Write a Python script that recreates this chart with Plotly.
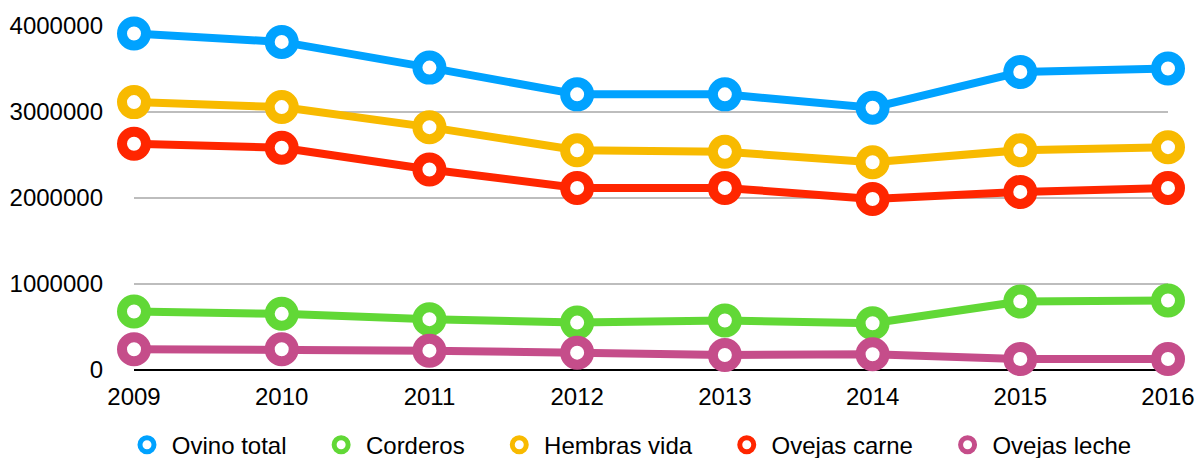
import plotly.graph_objects as go

years = [2009, 2010, 2011, 2012, 2013, 2014, 2015, 2016]
ovino_total = [3913000, 3815000, 3516000, 3205000, 3205000, 3050000, 3465000, 3505000]
corderos = [680000, 653000, 591000, 551000, 575000, 544000, 796000, 808000]
hembras_vida = [3115000, 3057000, 2824000, 2556000, 2537000, 2416000, 2556000, 2591000]
ovejas_carne = [2630000, 2584000, 2331000, 2117000, 2117000, 1989000, 2071000, 2117000]
ovejas_leche = [241000, 241000, 225000, 202000, 175000, 183000, 128000, 128000]

names = ["Ovino total", "Corderos", "Hembras vida", "Ovejas carne", "Ovejas leche"]
series = [ovino_total, corderos, hembras_vida, ovejas_carne, ovejas_leche]
colors = ["#00a2ff", "#61d836", "#f8ba00", "#ff2600", "#c54d8a"]
y_ticks = [0, 1000000, 2000000, 3000000, 4000000]

FONT = "Liberation Sans"

fig = go.Figure()
for name, vals, col in zip(names, series, colors):
    fig.add_trace(go.Scatter(
        x=years, y=vals, mode="lines+markers", name=name, showlegend=False,
        line=dict(color=col, width=8),
        marker=dict(size=24, color="white", line=dict(color=col, width=10)),
        cliponaxis=False,
    ))
for name, col in zip(names, colors):
    fig.add_trace(go.Scatter(
        x=[None], y=[None], mode="markers",
        name="\u2009" + name + "\u00a0\u00a0\u00a0\u2009\u2009", showlegend=True,
        marker=dict(size=14, color="white", line=dict(color=col, width=6)),
    ))

fig.update_layout(
    width=1198, height=458,
    margin=dict(l=134, r=30, t=26, b=88, autoexpand=False),
    paper_bgcolor="white", plot_bgcolor="white",
    font=dict(family=FONT, size=24, color="black"),
    showlegend=True,
    legend=dict(orientation="h", x=0.106, xanchor="left", xref="container",
                y=0.028, yanchor="middle", yref="container",
                font=dict(size=24), itemwidth=30, tracegroupgap=0),
    xaxis=dict(range=[2009, 2016], tickvals=years, ticktext=[str(y) for y in years],
               showgrid=False, zeroline=False, showline=False, ticks="",
               ticklabelstandoff=10, automargin=False),
    yaxis=dict(range=[0, 4000000], tickvals=y_ticks, ticktext=[str(v) for v in y_ticks],
               showgrid=True, gridcolor="#bdbdbd", gridwidth=1.5,
               zeroline=True, zerolinecolor="black", zerolinewidth=2,
               showline=False, ticks="", ticklabelstandoff=30, automargin=False),
)

fig.write_html("out.html", config={"displayModeBar": False},
               post_script="document.body.style.margin='0';document.body.style.overflow='hidden';")
